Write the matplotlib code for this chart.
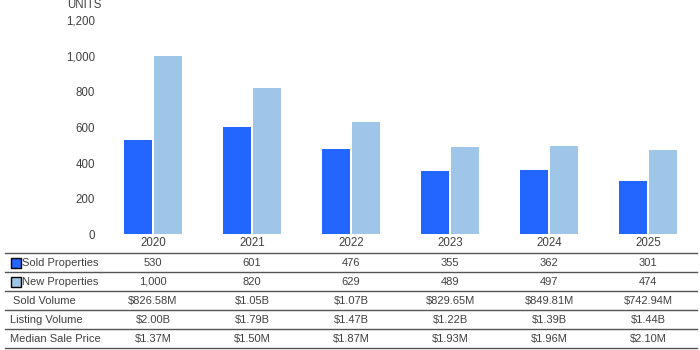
import matplotlib
matplotlib.use("Agg")
from matplotlib import pyplot as plt
from matplotlib.patches import Rectangle

years = ["2020", "2021", "2022", "2023", "2024", "2025"]
sold = [530, 601, 476, 355, 362, 301]
new = [1000, 820, 629, 489, 497, 474]
sold_volume = ["$826.58M", "$1.05B", "$1.07B", "$829.65M", "$849.81M", "$742.94M"]
listing_volume = ["$2.00B", "$1.79B", "$1.47B", "$1.22B", "$1.39B", "$1.44B"]
median_price = ["$1.37M", "$1.50M", "$1.87M", "$1.93M", "$1.96M", "$2.10M"]
yticks = [0, 200, 400, 600, 800, 1000, 1200]

SOLD_C = "#2266ff"
NEW_C = "#9fc5e8"
TXT = "#404040"
W, H = 700, 350
FS = 8.0

plt.rcParams["font.family"] = ["Liberation Sans", "DejaVu Sans"]
fig = plt.figure(figsize=(7, 3.5), dpi=100)

def fx(px): return px / W
def fy(py): return 1 - py / H

# plot area: x 103.5..697.5 px, y 20.4..234.3 px
ax = fig.add_axes([fx(103.5), fy(234.3), fx(697.5) - fx(103.5), fy(20.4) - fy(234.3)])
x = list(range(len(years)))
ax.bar([i - 0.155 for i in x], sold, width=0.28, color=SOLD_C)
ax.bar([i + 0.155 for i in x], new, width=0.28, color=NEW_C)
ax.set_xlim(-0.5, 5.5)
ax.set_ylim(0, 1200)
ax.set_yticks(yticks)
ax.set_yticklabels([f"{v:,}" for v in yticks], color=TXT, fontsize=8.3)
ax.set_xticks(x)
ax.set_xticklabels(years, color=TXT, fontsize=8.3)
ax.tick_params(length=0, pad=6)
ax.tick_params(axis="x", pad=2)
for s in ax.spines.values():
    s.set_visible(False)
fig.text(fx(67), fy(5.5), "UNITS", color=TXT, fontsize=8.3, va="center", ha="left")

# table rows
rows = [
    ("Sold Properties", [str(v) for v in sold], SOLD_C),
    ("New Properties", [f"{v:,}" for v in new], NEW_C),
    ("Sold Volume", sold_volume, None),
    ("Listing Volume", listing_volume, None),
    ("Median Sale Price", median_price, None),
]
line_y = [253, 272, 291, 310, 329, 348]
for yp in line_y:
    fig.add_artist(plt.Line2D([fx(5), fx(697)], [fy(yp), fy(yp)], color="#555555", lw=1))

for r, (label, vals, col) in enumerate(rows):
    ym = (line_y[r] + line_y[r + 1]) / 2
    yc = fy(ym + 0.5)
    if col is not None:
        fig.add_artist(Rectangle((fx(11), fy(ym + 5)), fx(10), 10 / H, facecolor=col,
                                 edgecolor="black", lw=1, transform=fig.transFigure))
        tx = 22.5
    elif label == "Sold Volume":
        tx = 13
    else:
        tx = 9.5
    fig.text(fx(tx), yc, label, color=TXT, fontsize=FS, va="center", ha="left")
    for i, v in enumerate(vals):
        xc = fx(103.5 + 99 * (i + 0.5))
        fig.text(xc, yc, v, color=TXT, fontsize=FS, va="center", ha="center")

fig.savefig("out.png", dpi=100)
